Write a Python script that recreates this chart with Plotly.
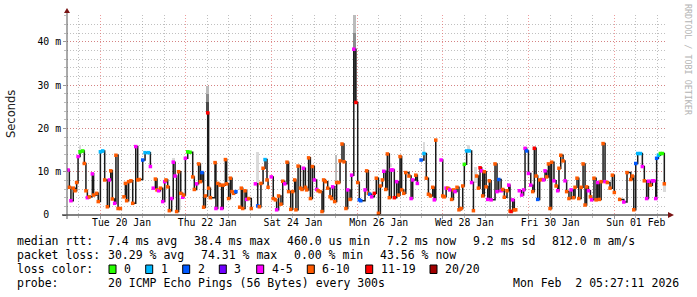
import plotly.graph_objects as go
import pandas as pd

START = pd.Timestamp("2026-01-19 05:27:11")
END = pd.Timestamp("2026-02-02 05:27:11")

# median rtt samples: hours since START, median (ms), loss bucket (None = gap)
HOURS = [
    0.6, 1.3, 2.2, 3.5, 4.5, 5.4, 6.2, 7.3, 8.8, 9.7, 10.6, 11.4, 12.5, 14.2, 14.9, 16.6, 17.5, 18.7, 20.0, 21.1,
    22.6, 23.7, 24.5, 25.4, 26.7, 27.4, 28.6, 29.9, 30.9,
    31.9, 32.7, 33.4, 34.5, 35.8, 36.8, 38.5, 39.6, 40.5, 42.4, 43.7, 45.7, 46.7, 47.5,
    48.3, 49.5, 50.4, 51.3, 52.3, 53.6, 54.7, 55.4, 56.4, 57.3, 58.6, 59.5, 60.5, 61.4, 62.5, 63.7, 64.8, 65.3, 66.3, 67.6,
    68.9, 70.4, 71.3, 72.6, 73.7, 74.7, 75.6, 76.5, 77.5, 78.8, 79.3, 80.3, 82.9, 83.4, 84.4, 85.7, 86.6, 87.5, 88.7, 89.4,
    90.5, 91.5, 92.4, 93.3, 94.6, 95.6,
    96.7, 97.6, 98.4, 99.7, 100.6, 101.7, 103.2, 104.3,
    105.5, 106.8, 107.7, 108.6, 109.8, 110.9, 112.0, 112.6, 113.5,
    114.4, 115.5, 116.7, 117.4, 118.5, 119.8, 120.8, 121.9, 123.2, 124.1, 125.3, 126.4, 127.5, 128.2, 129.4, 130.7, 131.6,
    132.4, 133.5, 134.2, 135.3, 136.3, 137.4, 138.5, 139.8, 140.6, 141.7, 142.8, 143.7, 144.7, 146.0, 147.3, 148.2, 148.8,
    149.9, 151.0, 152.1, 152.9, 154.0, 155.1, 156.2, 157.2, 158.5, 159.4, 160.6, 161.8, 162.8, 163.7, 164.5,
    166.9, 167.8, 168.8, 169.5, 170.6, 172.1, 173.2, 174.4, 175.5, 176.6, 177.4, 178.5, 179.4, 180.5, 181.6, 182.4, 183.3,
    184.6, 185.6, 186.5, 187.4, 188.6, 189.7, 191.5, 192.7, 193.6, 195.3, 196.2, 197.2,
    198.3, 199.9, 201.2, 202.4, 203.5, 204.8, 205.7, 206.5, 208.0,
    209.5, 210.4, 211.3, 212.3, 213.2, 214.3, 215.4, 216.4, 217.3, 218.4, 219.5, 220.7, 221.6, 222.5, 223.8, 225.3, 226.6,
    227.6, 228.5,
    229.4, 230.4, 231.3, 232.2, 232.8, 233.7, 234.7, 235.6, 236.5, 237.5, 239.7, 240.8, 241.8, 243.1, 244.0, 244.9, 246.4,
    247.4, 248.1, 248.7, 249.6, 250.5, 251.3, 252.3,
    253.3, 254.6, 255.7, 256.5, 257.4, 258.4, 259.7, 260.8, 261.7, 262.7, 263.6, 264.7, 265.8, 266.9, 267.7, 268.6, 269.6,
    270.5, 271.4, 272.7, 273.9, 274.8, 275.5, 276.5, 277.8, 278.9, 279.8, 281.1, 282.3, 283.6, 284.5, 285.6, 286.6, 287.9,
    289.0, 290.1, 291.0, 292.0, 293.1, 293.8, 295.1, 296.3, 297.2, 298.1, 299.1, 300.2, 301.3, 302.6, 304.1, 305.4, 306.5,
    308.0,
    309.5, 311.8, 313.6, 315.7, 316.6, 317.4, 318.5, 319.6, 321.1, 322.2, 323.3, 324.6, 325.6, 326.7, 327.8, 328.7, 329.7,
    330.2, 331.2, 332.3, 333.4, 334.5,
]
MEDIAN_MS = [
    10.4, 6.4, 3.3, 6.2, 5.6, 7.5, 13.5, 14.6, 14.8, 11.9, 5.6, 4.0, 4.2, 9.5, 4.6, 5.0, 3.1, 14.6, 14.8, 8.1,
    1.9, 8.1, 10.2, 3.7, 2.7, 13.8, 1.5, 1.5, None,
    4.2, 7.3, 3.3, 7.7, 7.9, 2.7, 15.8, 8.1, 8.2, 12.7, 14.4, 14.4, 11.2, None,
    6.2, 8.3, 5.8, 5.6, 6.2, 3.1, 7.7, 8.1, 6.5, 1.0, 3.8, 12.2, 9.0, 0.8, 10.0, 5.0, 4.1, 4.6, 13.1, 14.6,
    14.5, 8.8, 5.9, 7.2, 11.8, 7.7, 9.8, 1.8, 4.4, 23.6, 6.2, 4.0, 12.1, 1.5, 7.3, 6.9, 1.5, 6.9, 12.8, 7.2,
    3.8, 8.5, 5.4, 5.0, 5.4, None,
    1.8, 6.2, 1.5, 5.6, 3.6, 3.8, 1.5, None,
    7.2, 2.1, 1.9, 7.3, 10.8, 12.8, 8.1, 6.4, None,
    8.8, 3.8, 3.5, 1.2, 4.4, 2.5, 7.8, 7.2, 12.2, 5.4, 1.3, 5.4, 8.1, 1.2, 11.3, 6.2, 5.9,
    10.8, 6.4, 5.8, 13.2, 3.8, 11.2, 8.1, 5.9, 5.6, 5.4, 0.8, 8.1, 7.7, 6.2, 4.2, 3.8, 6.5,
    3.1, 7.5, 7.5, 12.5, 16.4, 12.3, 1.5, 5.8, 3.6, 9.2, 38.3, 26.0, 7.5, 3.5, 3.3,
    5.8, 10.2, 5.0, 4.8, 4.2, 5.0, 8.5, 0.4, 6.7, 8.1, 10.1, 5.9, 14.1, 4.0, 10.4, 10.4, 4.0,
    7.7, 4.6, 13.5, 5.8, 5.0, 9.8, 9.0, 3.8, 8.1, 9.2, 7.3, None,
    12.7, 14.2, 8.5, 4.8, 4.4, 6.4, 3.5, 17.3, None,
    12.7, 4.4, 4.2, 6.2, 6.2, 5.8, 3.6, 5.8, 5.4, 6.4, 1.2, 1.5, 6.7, 11.7, 14.8, 14.8, 7.5,
    1.0, None,
    9.0, 6.2, 10.9, 10.2, 4.4, 10.0, 6.5, 3.6, 7.9, 3.5, 11.8, 5.4, 8.2, 5.6, 5.9, 4.1, 5.6,
    6.9, 0.9, 0.8, 3.5, 1.2, 1.2, None,
    5.6, 4.6, 5.8, 15.4, 14.8, 9.6, 6.9, 5.4, 15.4, 9.0, 3.6, 8.1, 8.2, 8.1, 10.2, 8.8, 11.8,
    1.5, 12.2, 7.9, 6.7, 5.6, 10.8, 13.8, 12.5, 7.9, 5.4, 3.8, 5.8, 4.0, 6.4, 8.5, 3.8, 6.4,
    11.8, 2.3, 6.5, 5.6, 4.2, 3.5, 8.5, 3.5, 7.5, 3.6, 7.7, 16.5, 7.7, 7.5, 6.2, 9.2, 5.2,
    None,
    3.6, 3.0, 9.8, 8.2, 9.0, 1.2, 11.9, 14.2, 14.2, 11.2, 7.9, 3.8, 7.8, 6.9, 7.9, 7.9, 3.8,
    13.1, 13.8, 14.2, 14.2, 7.2,
]
LOSS = [
    4, 6, 4, 6, 6, 6, 4, 0, 0, 6, 6, 4, 6, 4, 6, 6, 6, 1, 1, 6,
    6, 4, 6, 6, 4, 6, 6, 6, None,
    6, 6, 6, 6, 6, 6, 4, 6, 6, 2, 1, 1, 4, None,
    4, 6, 6, 4, 6, 4, 4, 6, 6, 6, 4, 4, 4, 6, 6, 6, 4, 6, 4, 0,
    0, 6, 6, 4, 6, 6, 2, 6, 6, 11, 6, 6, 6, 4, 6, 6, 4, 6, 6, 6,
    6, 6, 6, 6, 2, None,
    6, 6, 6, 6, 4, 6, 6, None,
    4, 2, 6, 6, 6, 1, 6, 6, None,
    4, 6, 6, 4, 6, 6, 6, 4, 6, 6, 6, 6, 6, 6, 6, 6, 6,
    4, 6, 6, 6, 6, 6, 4, 4, 6, 6, 6, 6, 6, 6, 6, 6, 4,
    6, 6, 6, 6, 6, 6, 6, 4, 6, 4, 4, 11, 6, 2, 2,
    4, 6, 6, 2, 4, 11, 6, 6, 6, 6, 4, 6, 6, 6, 4, 4, 11,
    4, 6, 6, 6, 6, 6, 6, 4, 4, 6, 4, None,
    2, 1, 6, 6, 6, 6, 4, 6, None,
    4, 6, 6, 4, 6, 4, 6, 6, 4, 6, 6, 6, 6, 0, 1, 1, 4,
    6, None,
    6, 6, 11, 4, 6, 6, 6, 4, 6, 4, 6, 4, 2, 4, 6, 6, 6,
    4, 6, 11, 4, 6, 6, None,
    4, 4, 4, 4, 2, 4, 4, 6, 11, 6, 2, 6, 6, 4, 4, 6, 6,
    6, 6, 4, 6, 4, 6, 6, 6, 4, 6, 6, 4, 6, 6, 6, 6, 6,
    6, 6, 6, 4, 6, 4, 6, 6, 4, 6, 6, 6, 4, 6, 6, 6, 6,
    None,
    6, 4, 6, 6, 6, 6, 2, 1, 1, 4, 6, 4, 4, 6, 4, 4, 4,
    2, 1, 0, 0, 6,
]

# smoke (ping spread): hours since START, low / high (ms), density level 0 (sparse) .. 3 (dense)
SMOKE_HOURS = [7.3, 59.5, 63.3, 78.7, 78.7, 78.7, 106.6, 150.6, 161.2, 161.2, 161.2, 181.0, 199.9, 225.0, 228.8, 261.7, 334.8]
SMOKE_LO_MS = [14.6, 12.2, 1.2, 23.6, 26.0, 28.0, 6.5, 7.5, 26.0, 38.3, 42.0, 11.0, 14.2, 14.8, 7.5, 15.4, 5.3]
SMOKE_HI_MS = [16.2, 13.2, 4.0, 26.0, 28.0, 29.8, 14.6, 13.8, 38.3, 42.0, 46.2, 12.0, 16.9, 16.2, 11.0, 16.0, 7.2]
SMOKE_DENSITY = [0, 0, 0, 3, 2, 1, 0, 1, 3, 2, 1, 0, 0, 0, 0, 0, 0]

LOSS_KEYS = [0, 1, 2, 3, 4, 6, 11, 20]
LOSS_LABELS = ["0", "1", "2", "3", "4-5", "6-10", "11-19", "20/20"]

Y_TICKS = [0, 10, 20, 30, 40]
Y_TICKTEXT = ["0\u00a0\u00a0", "10\u00a0m", "20\u00a0m", "30\u00a0m", "40\u00a0m"]
X_LABEL_DAYS = ["2026-01-20", "2026-01-22", "2026-01-24", "2026-01-26", "2026-01-28", "2026-01-30", "2026-02-01"]
X_LABEL_TEXT = ["Tue 20 Jan", "Thu 22 Jan", "Sat 24 Jan", "Mon 26 Jan", "Wed 28 Jan", "Fri 30 Jan", "Sun 01 Feb"]

STATS_RTT = ["median rtt:", "7.4 ms avg", "38.4 ms max", "460.0 us min", "7.2 ms now", "9.2 ms sd", "812.0 m am/s"]
STATS_LOSS = ["packet loss:", "30.29 % avg", "74.31 % max", "0.00 % min", "43.56 % now"]
LOSS_TITLE = "loss color:"
PROBE = ["probe:", "20 ICMP Echo Pings (56 Bytes) every 300s", "Mon Feb  2 05:27:11 2026"]
WATERMARK = "RRDTOOL / TOBI OETIKER"
Y_TITLE = "Seconds"

# ---------------- styling / layout ----------------
LOSS_COLORS = {0: "#26ff00", 1: "#00b8ff", 2: "#0059ff", 3: "#7000ff",
               4: "#ff00ff", 6: "#ff5a00", 11: "#ff0000", 20: "#a00000"}
SMOKE_SHADES = {0: "#dadada", 1: "#bcbcbc", 2: "#8c8c8c", 3: "#4a4a4a"}

W, H = 697, 297
ML, MR, MT, MB = 67, 30, 15, 82
PW, PH = W - ML - MR, H - MT - MB
YMAX = 46.2
MONO = "DejaVu Sans Mono"


def fx(px):
    return (px - ML) / PW


def fy(py):
    return (H - MB - py) / PH


def nb(s):
    return s.replace(" ", "\u00a0")


def at(h):
    return START + pd.Timedelta(hours=h)


fig = go.Figure()

# smoke
fig.add_trace(go.Bar(
    x=[at(h) for h in SMOKE_HOURS],
    y=[hi - lo for lo, hi in zip(SMOKE_LO_MS, SMOKE_HI_MS)],
    base=SMOKE_LO_MS,
    width=[1.6 * 3600e3] * len(SMOKE_HOURS),
    marker=dict(color=[SMOKE_SHADES[d] for d in SMOKE_DENSITY], line=dict(width=0)),
    hoverinfo="skip", showlegend=False,
))

times = [at(h) for h in HOURS]
fig.add_trace(go.Scatter(
    x=times, y=MEDIAN_MS, mode="lines",
    line=dict(color="#1a1a1a", width=1.5, shape="hv"),
    connectgaps=False, hoverinfo="skip", showlegend=False,
))
idx = [i for i, v in enumerate(MEDIAN_MS) if v is not None]
fig.add_trace(go.Scatter(
    x=[times[i] for i in idx], y=[MEDIAN_MS[i] for i in idx], mode="markers",
    marker=dict(symbol="square", size=3.5, color=[LOSS_COLORS[LOSS[i]] for i in idx], line=dict(width=0)),
    hoverinfo="skip", showlegend=False,
))

label_times = [pd.Timestamp(d) + pd.Timedelta(hours=12) for d in X_LABEL_DAYS]
fig.add_trace(go.Scatter(x=label_times, y=[None] * len(label_times), xaxis="x2", yaxis="y",
                         mode="markers", hoverinfo="skip", showlegend=False))

MAJOR_GRID = "rgba(225,90,90,0.6)"
MINOR_GRID = "rgba(140,140,140,0.55)"
DOTS = "1px,2px"

fig.update_layout(
    width=W, height=H,
    margin=dict(l=ML, r=MR, t=MT, b=MB, pad=0),
    paper_bgcolor="white", plot_bgcolor="white",
    showlegend=False, barmode="overlay", bargap=0,
    xaxis=dict(
        type="date", range=[START, END], showticklabels=False,
        tick0="2026-01-20", dtick=2 * 86400000,
        showgrid=True, gridcolor=MAJOR_GRID, griddash=DOTS, gridwidth=1,
        ticks="outside", ticklen=3, tickcolor="#999",
        showline=False, zeroline=False,
        minor=dict(tick0="2026-01-20", dtick=43200000, showgrid=True, gridcolor=MINOR_GRID,
                   griddash=DOTS, ticks="outside", ticklen=2, tickcolor="#bbb"),
    ),
    xaxis2=dict(
        type="date", range=[START, END], overlaying="x", anchor="y", side="bottom",
        tickmode="array", tickvals=label_times, ticktext=X_LABEL_TEXT,
        showgrid=False, ticks="", showline=False, zeroline=False,
        tickfont=dict(family=MONO, size=9.8, color="#000"),
    ),
    yaxis=dict(
        range=[0, YMAX], tickmode="array", tickvals=Y_TICKS, ticktext=Y_TICKTEXT,
        showgrid=True, gridcolor=MAJOR_GRID, griddash=DOTS, gridwidth=1,
        ticks="outside", ticklen=3, tickcolor="#999",
        tickfont=dict(family=MONO, size=9.8, color="#000"),
        showline=False, zeroline=False,
        minor=dict(tick0=0, dtick=2, showgrid=True, gridcolor=MINOR_GRID, griddash=DOTS,
                   ticks="outside", ticklen=2, tickcolor="#bbb"),
    ),
)

shapes = []
# axes
shapes.append(dict(type="line", xref="paper", yref="paper", x0=fx(62), x1=fx(668), y0=fy(215), y1=fy(215),
                   line=dict(color="#000", width=1), layer="above"))
shapes.append(dict(type="line", xref="paper", yref="paper", x0=fx(67), x1=fx(67), y0=fy(219), y1=fy(12),
                   line=dict(color="#555", width=1), layer="above"))
shapes.append(dict(type="path", xref="paper", yref="paper",
                   path=f"M {fx(64)},{fy(13)} L {fx(70)},{fy(13)} L {fx(67)},{fy(8)} Z",
                   fillcolor="#7a1414", line=dict(width=0), layer="above"))
shapes.append(dict(type="path", xref="paper", yref="paper",
                   path=f"M {fx(668)},{fy(212)} L {fx(668)},{fy(218)} L {fx(674)},{fy(215)} Z",
                   fillcolor="#7a1414", line=dict(width=0), layer="above"))

annotations = []


def text(s, px, py, size=11.5, family=MONO, color="#000", angle=0, xanchor="left"):
    annotations.append(dict(text=nb(s), x=fx(px), y=fy(py), xref="paper", yref="paper",
                            xanchor=xanchor, yanchor="middle", showarrow=False, textangle=angle,
                            font=dict(family=family, size=size, color=color), borderpad=0))


RTT_X = [16, 106.5, 192.5, 285.5, 385.5, 471.5, 550.5]
LOSS_X = [16, 106.5, 199.5, 292.5, 378.5]
PROBE_X = [16, 106.5, 512]
for s, x in zip(STATS_RTT, RTT_X):
    text(s, x, 241)
for s, x in zip(STATS_LOSS, LOSS_X):
    text(s, x, 255.3)
text(LOSS_TITLE, 16, 269.3)
BOX_X = [109, 145.7, 182.7, 219.3, 256.7, 307.3, 365.7, 430]
for k, lab, bx in zip(LOSS_KEYS, LOSS_LABELS, BOX_X):
    shapes.append(dict(type="rect", xref="paper", yref="paper", x0=fx(bx), x1=fx(bx + 7),
                       y0=fy(273.5), y1=fy(265), fillcolor=LOSS_COLORS[k],
                       line=dict(color="#000", width=1)))
    text(lab, bx + 13.8, 269.3)
for s, x in zip(PROBE, PROBE_X):
    text(s, x, 283)

text(Y_TITLE, 11, 114, size=11.5, family="DejaVu Sans", color="#222", angle=-90, xanchor="center")
text(WATERMARK, 688, 60, size=8.4, color="#b4b4b4", angle=90, xanchor="center")

fig.update_layout(shapes=shapes, annotations=annotations)
fig.write_html("out.html")
